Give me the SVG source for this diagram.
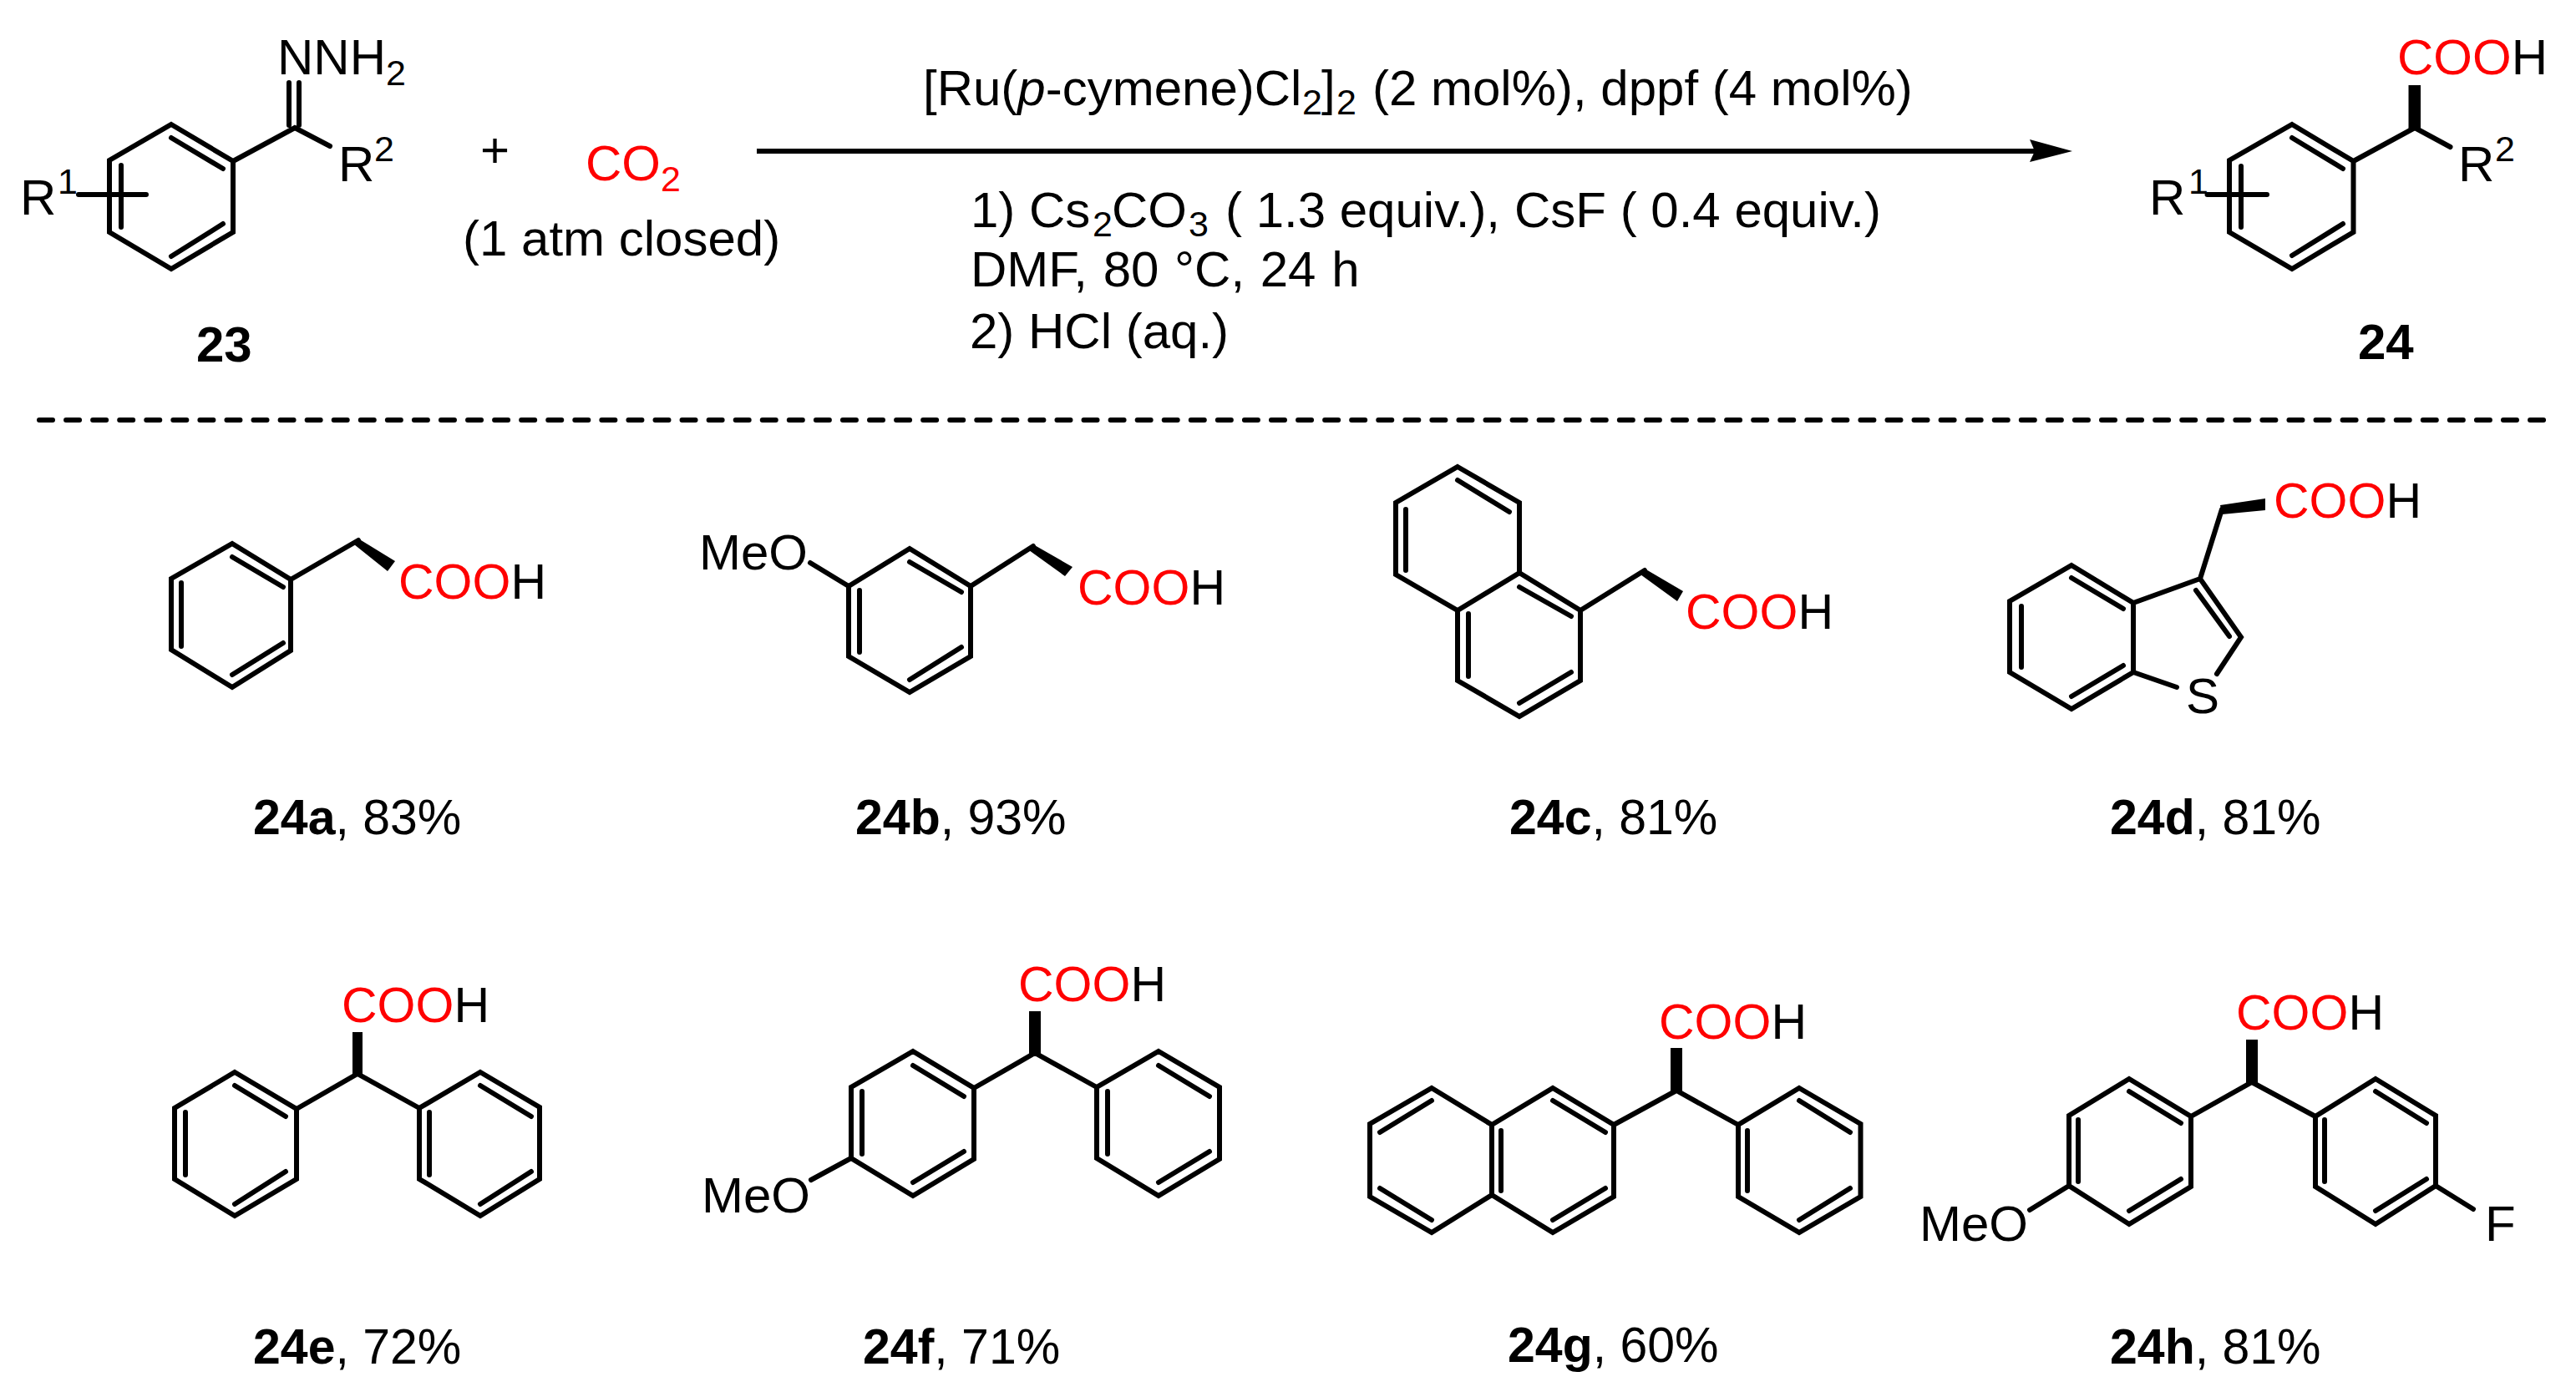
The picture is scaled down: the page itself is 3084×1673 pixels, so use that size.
<svg xmlns="http://www.w3.org/2000/svg" width="3084" height="1673" viewBox="0 0 3084 1673">
<style>
text{font-family:"Liberation Sans",Arial,sans-serif;font-size:60px;fill:#000}
.b{font-weight:bold}
.r{fill:#f00}
.s{font-size:43px}
.l{font-size:59px}
.bond{fill:none;stroke:#000;stroke-width:6;stroke-linejoin:miter;stroke-linecap:round}
.wedge{fill:#000;stroke:none}
</style>
<rect width="3084" height="1673" fill="#fff"/>
<g id="connectors">
<path d="M906 181H2436" fill="none" stroke="#000" stroke-width="6"/>
<path d="M2481 181L2430 167L2436 181L2430 194Z" fill="#000"/>
<path d="M47 503H3048" fill="none" stroke="#000" stroke-width="6" stroke-linecap="round" stroke-dasharray="16 16.065"/>
</g>
<g id="n23">
<path class="bond" d="M205 149L279 193V278L205 322L131 278V192ZM205 165L267 202M267 268L205 307M145 198V272M279 193L353 153L395 175M346 99V150M358 99V150M94 233H175"/>
<text x="332" y="89">NNH<tspan class="s" x="462" y="102">2</tspan></text>
<text x="405" y="217">R<tspan class="s" x="448" y="193">2</tspan></text>
<text x="24" y="257">R<tspan class="s" x="69" y="232">1</tspan></text>
<text x="235" y="433" class="b">23</text>
</g>
<g id="plus"><text x="575" y="200">+</text></g>
<g id="co2">
<text x="701" y="216" class="r">CO<tspan class="s r" x="791" y="229">2</tspan></text>
<text x="554" y="306">(1 atm closed)</text>
</g>
<g id="conditions">
<text x="1105" y="126">[Ru(<tspan font-style="italic">p</tspan>-cymene)Cl<tspan class="s" x="1559" y="137">2</tspan><tspan x="1582" y="126">]</tspan><tspan class="s" x="1600" y="137">2</tspan><tspan x="1643" y="126">(2 mol%), dppf (4 mol%)</tspan></text>
<text x="1162" y="272">1) Cs<tspan class="s" x="1308" y="283">2</tspan><tspan x="1331" y="272">CO</tspan><tspan class="s" x="1423" y="283">3</tspan><tspan x="1467" y="272">( 1.3 equiv.),</tspan><tspan x="1813" y="272">CsF ( 0.4 equiv.)</tspan></text>
<text x="1162" y="343" word-spacing="2">DMF, 80 °C, 24 h</text>
<text x="1161" y="417">2) HCl (aq.)</text>
</g>
<g id="n24">
<path class="bond" d="M2744 149L2817.500 193V278L2744 322L2669 278V192ZM2744 165L2805 202M2805 268L2744 306M2683 199V272M2817.500 193L2891 153L2933.500 176M2642.500 233H2714"/>
<path class="wedge" d="M2883.500 102H2898V155L2891 156L2883.500 155Z"/>
<text x="2870" y="89"><tspan class="r">COO</tspan>H</text>
<text x="2943" y="217">R<tspan class="s" x="2987" y="193">2</tspan></text>
<text x="2573" y="257">R<tspan class="s" x="2620" y="232">1</tspan></text>
<text x="2823" y="430" class="b">24</text>
</g>
<g id="n24a">
<path class="bond" d="M278 651L348 694V779L278 823L205 778V693ZM278 667L339 703M339 770L278 808M217 698V774M348 694L429 647"/>
<path class="wedge" d="M429 645L473 672L464 684L424 652Z"/>
<text x="477" y="717" class="l"><tspan class="r">COO</tspan>H</text>
<text x="303" y="999" class="l"><tspan class="b">24a</tspan>, 83%</text>
</g>
<g id="n24b">
<path class="bond" d="M1089 657L1162 702V786L1089 829L1016 786V702ZM1089 673L1151 709M1151 775L1089 814M1029 707V781M1162 702L1237 654M970 674L1016 702"/>
<path class="wedge" d="M1237 652L1284 679L1275 690L1232 659Z"/>
<text x="837" y="682">MeO</text>
<text x="1290" y="724" class="l"><tspan class="r">COO</tspan>H</text>
<text x="1024" y="999" class="l"><tspan class="b">24b</tspan>, 93%</text>
</g>
<g id="n24c">
<path class="bond" d="M1745 559L1819 602V686L1745 731L1671 688V602ZM1745 575L1807 613M1683 610V683M1819 686L1892 731V815L1819 858L1745 815V731M1819 703L1881 738M1758 735V810M1881 805L1819 842M1892 731L1969 683"/>
<path class="wedge" d="M1969 681L2015 708L2008 720L1964 688Z"/>
<text x="2018" y="753" class="l"><tspan class="r">COO</tspan>H</text>
<text x="1807" y="999" class="l"><tspan class="b">24c</tspan>, 81%</text>
</g>
<g id="n24d">
<path class="bond" d="M2480 677L2554 722V805L2480 849L2406 805V720ZM2480 692L2542 729M2420 726V799M2542 797L2480 834M2554 722L2634 693L2683 763L2654 807M2629 707L2669 762M2554 805L2606 823M2634 693L2660 610"/>
<path class="wedge" d="M2658 605L2712 597V611L2660 616Z"/>
<text x="2617" y="854">S</text>
<text x="2722" y="620" class="l"><tspan class="r">COO</tspan>H</text>
<text x="2526" y="999" class="l"><tspan class="b">24d</tspan>, 81%</text>
</g>
<g id="n24e">
<path class="bond" d="M281 1284L355 1328V1412L281 1456L209 1412V1327ZM281 1300L342 1337M342 1403L281 1442M222 1332V1407M355 1328L428 1286L502 1327M575 1284L646 1326V1412L575 1456L502 1412V1327ZM575 1300L636 1337M636 1403L575 1442M514 1332V1407"/>
<path class="wedge" d="M422 1236H434V1288H422Z"/>
<text x="409" y="1224" class="l"><tspan class="r">COO</tspan>H</text>
<text x="303" y="1632.500" class="l"><tspan class="b">24e</tspan>, 72%</text>
</g>
<g id="n24f">
<path class="bond" d="M1093 1259L1166 1303V1388L1093 1432L1019 1387V1302ZM1093 1276L1154 1313M1154 1379L1093 1416M1032 1307V1382M1166 1303L1239 1261L1313 1302M1387 1259L1460 1302V1388L1387 1432L1313 1387V1302ZM1387 1276L1448 1313M1448 1379L1387 1416M1326 1307V1382M1019 1387L971 1413"/>
<path class="wedge" d="M1232 1211H1246V1264H1232Z"/>
<text x="1219" y="1199" class="l"><tspan class="r">COO</tspan>H</text>
<text x="840" y="1452">MeO</text>
<text x="1033" y="1632.500" class="l"><tspan class="b">24f</tspan>, 71%</text>
</g>
<g id="n24g">
<path class="bond" d="M1714 1303L1786 1347V1431L1714 1476L1640 1433V1346ZM1714 1318L1652 1356M1652 1423L1714 1461M1786 1347L1859 1303L1932 1347V1433L1859 1476L1786 1431M1797 1354V1426M1859 1318L1922 1356M1922 1423L1859 1461M1932 1347L2007 1306L2081 1347M2154 1303L2227.500 1346V1433L2154 1476L2081 1433V1347ZM2154 1318L2215 1356M2215 1423L2154 1461M2092 1354V1426"/>
<path class="wedge" d="M2000 1255H2014V1308H2000Z"/>
<text x="1986" y="1244" class="l"><tspan class="r">COO</tspan>H</text>
<text x="1805" y="1630.500" class="l"><tspan class="b">24g</tspan>, 60%</text>
</g>
<g id="n24h">
<path class="bond" d="M2549 1292L2623 1337V1421L2549 1466L2477 1420V1336ZM2549 1307L2611 1345M2611 1412L2549 1450M2488 1341V1415M2623 1337L2696 1296L2772 1337M2844 1292L2916 1336V1420L2844 1466L2772 1421V1337ZM2844 1307L2905 1345M2905 1412L2844 1450M2783 1341V1415M2477 1420L2430 1449M2916 1420L2961 1448"/>
<path class="wedge" d="M2689 1245H2703V1298H2689Z"/>
<text x="2677" y="1233" class="l"><tspan class="r">COO</tspan>H</text>
<text x="2298" y="1486">MeO</text>
<text x="2975" y="1486">F</text>
<text x="2526" y="1632.500" class="l"><tspan class="b">24h</tspan>, 81%</text>
</g>
</svg>
